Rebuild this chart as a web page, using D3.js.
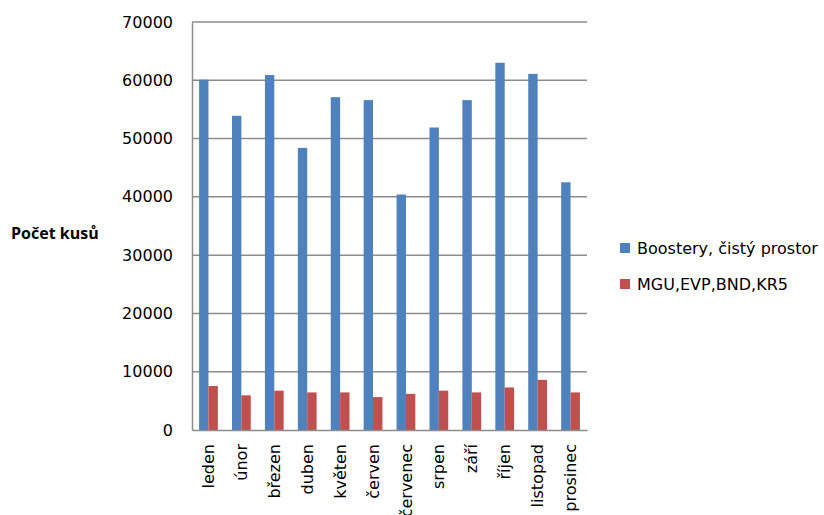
<!DOCTYPE html>
<html>
<head>
<meta charset="utf-8">
<script src="https://cdn.jsdelivr.net/npm/d3@7"></script>
<style>
  html, body { margin: 0; padding: 0; background: #fff; }
  svg { display: block; }
</style>
</head>
<body>
<svg id="chart" width="824" height="515"></svg>
<script>
// Monthly piece counts for two product groups
const months = ["leden", "únor", "březen", "duben", "květen", "červen",
                "červenec", "srpen", "září", "říjen", "listopad", "prosinec"];
const seriesNames = ["Boostery, čistý prostor", "MGU,EVP,BND,KR5"];
const boostery = [60100, 53900, 60900, 48400, 57100, 56600, 40400, 51900, 56600, 63000, 61100, 42500];
const mgu = [7550, 5950, 6750, 6450, 6450, 5650, 6200, 6750, 6450, 7300, 8600, 6450];
const yTicks = [0, 10000, 20000, 30000, 40000, 50000, 60000, 70000];
const colors = ["#4F81BD", "#C0504D"];
const yTitle = "Počet kusů";

const svg = d3.select("#chart");
const plot = { left: 192, right: 587, top: 22, bottom: 430 };

const x = d3.scaleBand()
  .domain(months)
  .range([plot.left, plot.right])
  .paddingInner(0.43)
  .paddingOuter(0.215);

const xInner = d3.scaleBand()
  .domain([0, 1])
  .range([0, x.bandwidth()]);

const y = d3.scaleLinear()
  .domain([0, 70000])
  .range([plot.bottom, plot.top]);

const gridColor = "#8c8c8c";
const font = "DejaVu Sans, sans-serif";

// Horizontal gridlines
svg.append("g")
  .selectAll("line")
  .data(yTicks.filter(d => d > 0))
  .join("line")
  .attr("x1", plot.left)
  .attr("x2", plot.right)
  .attr("y1", d => y(d))
  .attr("y2", d => y(d))
  .attr("stroke", gridColor)
  .attr("stroke-width", 1.5);

// Bars
const table = months.map((m, i) => ({ month: m, values: [boostery[i], mgu[i]] }));
svg.append("g")
  .selectAll("g")
  .data(table)
  .join("g")
  .attr("transform", d => `translate(${x(d.month)},0)`)
  .selectAll("rect")
  .data(d => d.values.map((v, k) => ({ k, v })))
  .join("rect")
  .attr("x", d => xInner(d.k))
  .attr("width", xInner.bandwidth())
  .attr("y", d => y(d.v))
  .attr("height", d => y(0) - y(d.v))
  .attr("fill", d => colors[d.k]);

// Y axis
const yAxis = svg.append("g")
  .attr("transform", `translate(${plot.left},0)`)
  .call(d3.axisLeft(y).tickValues(yTicks).tickSize(0).tickPadding(19).tickFormat(d3.format("d")));
yAxis.select(".domain").attr("stroke", gridColor).attr("stroke-width", 1.5);
yAxis.selectAll("text")
  .attr("font-family", font)
  .attr("font-size", 16)
  .attr("fill", "#000");

// X axis with vertical month labels
const xAxis = svg.append("g")
  .attr("transform", `translate(0,${plot.bottom})`)
  .call(d3.axisBottom(x).tickSize(0).tickFormat(d => d));
xAxis.select(".domain").attr("stroke", gridColor).attr("stroke-width", 1.5);
xAxis.selectAll("text")
  .attr("font-family", font)
  .attr("font-size", 16)
  .attr("fill", "#000")
  .attr("transform", "rotate(-90)")
  .attr("text-anchor", "end")
  .attr("x", -14)
  .attr("y", 0)
  .attr("dy", "0.35em");

// Y axis title
svg.append("text")
  .attr("x", 11)
  .attr("y", 239)
  .attr("font-family", "Open Sans, sans-serif")
  .attr("font-weight", "bold")
  .attr("font-size", 16)
  .attr("fill", "#000")
  .text(yTitle);

// Legend
const legend = svg.append("g")
  .selectAll("g")
  .data(seriesNames)
  .join("g")
  .attr("transform", (d, i) => `translate(620,${248 + i * 36})`);
legend.append("rect")
  .attr("x", 0)
  .attr("y", -5)
  .attr("width", 10)
  .attr("height", 10)
  .attr("fill", (d, i) => colors[i]);
legend.append("text")
  .attr("x", 17)
  .attr("y", 0)
  .attr("dy", "0.35em")
  .attr("font-family", font)
  .attr("font-size", 16)
  .attr("fill", "#000")
  .text(d => d);
</script>
</body>
</html>
